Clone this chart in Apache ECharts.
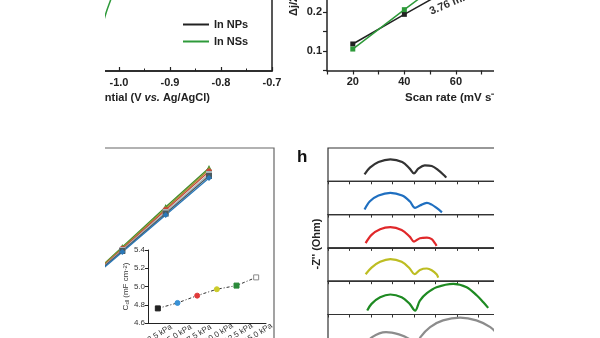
<!DOCTYPE html>
<html>
<head>
<meta charset="utf-8">
<script src="https://cdn.jsdelivr.net/npm/echarts@6/dist/echarts.min.js"></script>
<style>
  html, body { margin: 0; padding: 0; background: #fff; }
  #chart { width: 600px; height: 338px; }
</style>
</head>
<body>
<div id="chart"></div>
<script>
// ---- CV panel (edge of the NSs curve) ----
const cvPotential = [-1.03, -1.025, -1.018, -1.01];
const cvCurrentNSs = [0.45, 0.53, 0.62, 0.72];

// ---- Double-layer current vs scan rate ----
const scanRates = [20, 40, 60, 80];
const deltaJNPs = [0.118, 0.194, 0.268, 0.343];
const deltaJNSs = [0.105, 0.206, 0.305, 0.405];

// ---- Current vs scan rate under pressure ----
const pressScanRates = [10, 20, 40, 60];
const pressLines = {
  green:  [0.2025, 0.2525, 0.3525, 0.450],
  yellow: [0.2010, 0.2500, 0.3490, 0.446],
  red:    [0.1990, 0.2475, 0.3450, 0.441],
  gray:   [0.1975, 0.2450, 0.3400, 0.435],
  black:  [0.1960, 0.2425, 0.3360, 0.430],
  blue:   [0.1940, 0.2400, 0.3325, 0.425]
};

// ---- Inset: Cdl vs pressure ----
const pressureLabels = ['2.5 kPa', '5.0 kPa', '7.5 kPa', '10.0 kPa', '12.5 kPa', '15.0 kPa'];
const cdlValues = [4.76, 4.82, 4.90, 4.97, 5.01, 5.10];

// ---- Nyquist curves (Z', -Z'') per stacked strip ----
const nyqBlack = [[34,6.5],[39,12.7],[47,18],[58,20.5],[69,18],[76,11.8],[80,7.4],[84,11.8],[90,14.9],[96.5,14.3],[102.5,10.5],[108,5.6],[110,3.4]];
const nyqBlue = [[34,4.7],[39,12.4],[47,17.7],[58,20.2],[69,17.7],[76,12.4],[81,6.2],[85.5,8.4],[92,10.9],[96.5,9.3],[101,6.2],[106,2.1]];
const nyqRed = [[35,4.4],[40.5,12.1],[48.5,17.4],[58,19.3],[68.5,16.7],[76,10.5],[80,5.9],[85.5,9],[92,9.6],[96.5,8.1],[99.5,4.4],[101,1.9]];
const nyqYellow = [[35,6.5],[40.5,12.7],[48.5,18],[58,20.5],[68.5,18],[76,11.8],[80.5,6.5],[85.5,10.5],[92,11.8],[96.5,10.2],[101,6.5],[102.5,3.4]];
const nyqGreen = [[36.5,3.7],[40.5,9.9],[48.5,16],[58,18.6],[68.5,16],[76,9.9],[81,3.7],[85.5,13],[92,19.8],[101,25.4],[116.5,28.6],[129,25.4],[138.5,17.7],[144.5,11.4],[149,6.2]];
const nyqGray = [[35,2.2],[41,10],[54,14.6],[66,12.5],[75,8.5],[80,3.2],[84,5],[86,10],[95,19.3],[107,25.5],[123,28],[138,25.5],[151,19.3],[157,13.4]];

const FONT = 'Arial, "Liberation Sans", Helvetica, sans-serif';
const INK = '#222';

const zip = (xs, ys) => xs.map((x, i) => [x, ys[i]]);

// stacked strips for the Nyquist panel
const stripTop = 148, stripH = 33.3;
const nyqSets = [
  { data: nyqBlack,  color: '#333333' },
  { data: nyqBlue,   color: '#1f6fc0' },
  { data: nyqRed,    color: '#e0282a' },
  { data: nyqYellow, color: '#bdbd22' },
  { data: nyqGreen,  color: '#1e8a22' },
  { data: nyqGray,   color: '#8c8c8c' }
];

const grids = [
  { left: 68, right: 328, top: -40, bottom: 267, show: true, borderColor: INK, borderWidth: 1.5, outerBoundsMode: 'none' },
  { left: 327, right: 92.5, top: -7.5, bottom: 267.5, outerBoundsMode: 'none' },
  { left: 79, right: 326, top: 148, bottom: -10, show: true, borderColor: '#666', borderWidth: 1.2, outerBoundsMode: 'none' },
  { left: 148, right: 334, top: 250, bottom: 15, outerBoundsMode: 'none' }
];
nyqSets.forEach((s, i) => {
  grids.push({ left: 328, right: 100, top: stripTop + i * stripH, height: stripH, show: true,
               borderColor: '#333', borderWidth: 1.2, outerBoundsMode: 'none' });
});

const boldLabel = { fontFamily: FONT, fontWeight: 'bold', fontSize: 11, color: INK };

const xAxes = [
  { gridIndex: 0, type: 'value', min: -1.1, max: -0.7, interval: 0.1,
    axisLine: { lineStyle: { color: INK, width: 1.5 } },
    axisTick: { inside: true, length: 4, lineStyle: { color: INK, width: 1.2 } },
    minorTick: { show: true, splitNumber: 2, length: 2.5, lineStyle: { color: INK, width: 1 } },
    splitLine: { show: false },
    axisLabel: Object.assign({ margin: 6, formatter: v => v.toFixed(1) }, boldLabel) },
  { gridIndex: 1, type: 'value', min: 10, max: 80, interval: 10,
    axisLine: { lineStyle: { color: INK, width: 1.5 } },
    axisTick: { length: 4, lineStyle: { color: INK, width: 1.2 } },
    splitLine: { show: false },
    axisLabel: Object.assign({ margin: 6, formatter: v => (v % 20 === 0 && v < 80 ? String(v) : '') }, boldLabel) },
  { gridIndex: 2, type: 'value', min: 0, max: 90, show: false },
  { gridIndex: 3, type: 'category', data: pressureLabels,
    axisLine: { lineStyle: { color: INK, width: 1 } },
    axisTick: { length: 3, alignWithLabel: true, lineStyle: { color: INK } },
    axisLabel: { rotate: 32, align: 'center', verticalAlign: 'top', margin: 7, fontSize: 8, color: '#333', fontFamily: FONT } }
];
nyqSets.forEach((s, i) => {
  xAxes.push({ gridIndex: 4 + i, type: 'value', min: 0, max: 160, interval: 20,
    axisLine: { lineStyle: { color: '#333', width: 1.2 } },
    axisTick: { length: 3, lineStyle: { color: '#333', width: 1 } },
    axisLabel: { show: false }, splitLine: { show: false } });
});

const yAxes = [
  { gridIndex: 0, type: 'value', min: 0, max: 1, show: false },
  { gridIndex: 1, type: 'value', min: 0.05, max: 0.25, interval: 0.05,
    axisLine: { show: true, lineStyle: { color: INK, width: 1.5 } },
    axisTick: { show: true, length: 4, lineStyle: { color: INK, width: 1.2 } },
    splitLine: { show: false },
    axisLabel: Object.assign({ margin: 5, formatter: v => {
      const r = Math.round(v * 100) / 100;
      return (r === 0.1 || r === 0.2) ? r.toFixed(1) : '';
    } }, boldLabel) },
  { gridIndex: 2, type: 'value', min: 0, max: 0.5, show: false },
  { gridIndex: 3, type: 'value', min: 4.6, max: 5.4, interval: 0.2,
    axisLine: { show: true, lineStyle: { color: INK, width: 1 } },
    axisTick: { show: true, length: 3, lineStyle: { color: INK } },
    splitLine: { show: false },
    axisLabel: { margin: 3, fontSize: 8, color: '#333', fontFamily: FONT, formatter: v => v.toFixed(1) },
    name: '{a|C}{s|dl}{a| (mF cm}{p|-2}{a|)}', nameLocation: 'middle', nameGap: 17,
    nameTextStyle: { rich: {
      a: { fontSize: 8, fontFamily: FONT, color: '#333' },
      s: { fontSize: 6, fontFamily: FONT, color: '#333', verticalAlign: 'bottom' },
      p: { fontSize: 6, fontFamily: FONT, color: '#333', verticalAlign: 'top' } } } }
];
nyqSets.forEach((s, i) => {
  yAxes.push({ gridIndex: 4 + i, type: 'value', min: 0, max: 31, show: false });
});

const GREEN = '#2e9a3a';
const series = [
  { name: 'In NSs', type: 'line', xAxisIndex: 0, yAxisIndex: 0, data: zip(cvPotential, cvCurrentNSs),
    showSymbol: false, smooth: true, color: GREEN, lineStyle: { color: GREEN, width: 1.5 }, itemStyle: { color: GREEN } },
  { name: 'In NPs', type: 'line', xAxisIndex: 1, yAxisIndex: 1, data: zip(scanRates, deltaJNPs),
    symbol: 'rect', symbolSize: 5, color: '#222', lineStyle: { color: '#222', width: 1.5 }, itemStyle: { color: '#222' } },
  { name: 'In NSs', type: 'line', xAxisIndex: 1, yAxisIndex: 1, data: zip(scanRates, deltaJNSs),
    symbol: 'rect', symbolSize: 5, color: GREEN, lineStyle: { color: GREEN, width: 1.5 }, itemStyle: { color: GREEN } }
];

const pressStyles = [
  ['green', '#3c8c2c', 'triangle'],
  ['yellow', '#9c9430', 'triangle'],
  ['red', '#c84a3a', 'circle'],
  ['gray', '#a8b4b8', 'rect'],
  ['black', '#4a5a60', 'rect'],
  ['blue', '#2a78b8', 'diamond']
];
pressStyles.forEach(([key, color, sym]) => {
  series.push({ type: 'line', xAxisIndex: 2, yAxisIndex: 2, data: zip(pressScanRates, pressLines[key]),
    symbol: sym, symbolSize: 6, lineStyle: { color, width: 1.3 }, itemStyle: { color } });
});

const insetMarks = [
  ['rect', '#222', '#222'], ['circle', '#3a92d6', '#3a92d6'], ['circle', '#e03a3a', '#e03a3a'],
  ['circle', '#cccc2a', '#cccc2a'], ['rect', '#2a8a3a', '#2a8a3a'], ['rect', '#ffffff', '#888']
];
series.push({ type: 'line', xAxisIndex: 3, yAxisIndex: 3,
  data: cdlValues.map((v, i) => ({ value: v, symbol: insetMarks[i][0],
    itemStyle: { color: insetMarks[i][1], borderColor: insetMarks[i][2], borderWidth: 1 } })),
  symbolSize: 5, lineStyle: { color: '#333', width: 1, type: [3, 2, 1, 2] } });

nyqSets.forEach((s, i) => {
  series.push({ type: 'line', xAxisIndex: 4 + i, yAxisIndex: 4 + i, data: s.data,
    showSymbol: false, smooth: 0.35, lineStyle: { color: s.color, width: 2.2 } });
});

const option = {
  animation: false,
  backgroundColor: '#fff',
  textStyle: { fontFamily: FONT },
  grid: grids,
  xAxis: xAxes,
  yAxis: yAxes,
  legend: {
    data: ['In NPs', 'In NSs'], orient: 'vertical', left: 178, top: 14, itemGap: 6,
    icon: 'rect', itemWidth: 26, itemHeight: 2, selectedMode: false,
    textStyle: { fontFamily: FONT, fontWeight: 'bold', fontSize: 11, color: INK }
  },
  series,
  graphic: [
    { type: 'text', x: 81, y: 98, z: 10, style: {
        text: '{a|Potential (V }{b|vs.}{a| Ag/AgCl)}', textVerticalAlign: 'middle',
        rich: { a: { fontFamily: FONT, fontWeight: 'bold', fontSize: 11, fill: INK },
                b: { fontFamily: FONT, fontWeight: 'bold', fontStyle: 'italic', fontSize: 11, fill: INK } } } },
    { type: 'text', x: 405, y: 98, z: 10, style: {
        text: 'Scan rate (mV s⁻¹)', textVerticalAlign: 'middle',
        font: 'bold 11.5px ' + FONT, fill: INK } },
    { type: 'text', x: 294, y: 16, rotation: Math.PI / 2, z: 10, style: {
        text: 'Δj/2 (mA cm⁻²)', textAlign: 'left', textVerticalAlign: 'middle',
        font: 'bold 11px ' + FONT, fill: INK } },
    { type: 'text', x: 430, y: 12, rotation: 0.4, z: 10, style: {
        text: '3.76 mF cm⁻²', textAlign: 'left', textVerticalAlign: 'middle',
        font: 'bold 11px ' + FONT, fill: '#333' } },
    { type: 'text', x: 297, y: 157, z: 10, style: {
        text: 'h', textAlign: 'left', textVerticalAlign: 'middle',
        font: 'bold 17px ' + FONT, fill: '#111' } },
    { type: 'text', x: 317, y: 244, rotation: Math.PI / 2, z: 10, style: {
        text: "-Z'' (Ohm)", textAlign: 'center', textVerticalAlign: 'middle',
        font: 'bold 11px ' + FONT, fill: INK } },
    // white margins framing the figure area
    { type: 'rect', shape: { x: 0, y: 0, width: 105, height: 338 }, style: { fill: '#fff' }, z: 100 },
    { type: 'rect', shape: { x: 494, y: 0, width: 106, height: 338 }, style: { fill: '#fff' }, z: 100 }
  ]
};

const chart = echarts.init(document.getElementById('chart'), null, { renderer: 'canvas' });
chart.setOption(option);
</script>
</body>
</html>
